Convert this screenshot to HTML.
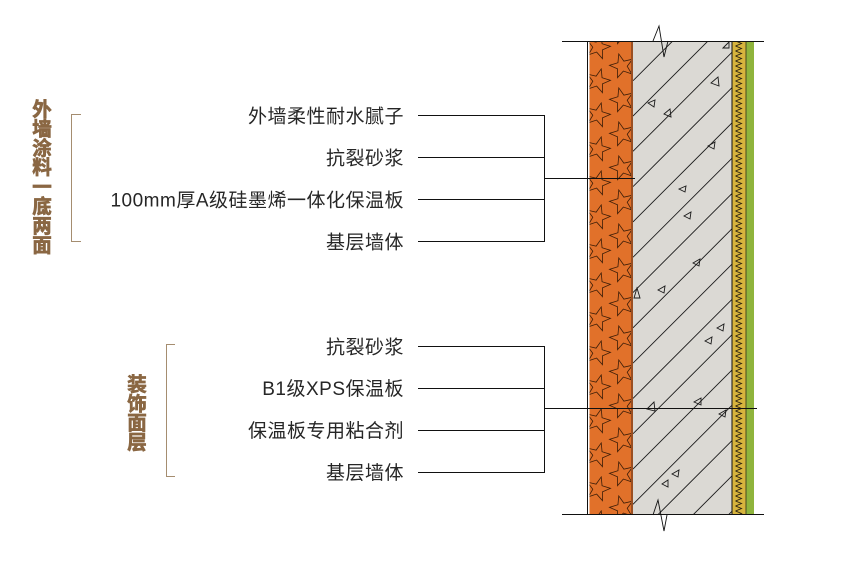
<!DOCTYPE html>
<html>
<head>
<meta charset="utf-8">
<style>
html,body{margin:0;padding:0;background:#fff;width:845px;height:569px;overflow:hidden;}
svg{display:block;}
.lbl{font-family:"Liberation Sans","Noto Sans CJK SC",sans-serif;font-size:19px;fill:#262626;letter-spacing:0.5px;}
.vt{font-family:"Liberation Sans","Noto Sans CJK SC",sans-serif;font-size:19.5px;font-weight:bold;fill:#8a6743;stroke:#8a6743;stroke-width:0.7px;}
</style>
</head>
<body>
<svg width="845" height="569" viewBox="0 0 845 569" xmlns="http://www.w3.org/2000/svg" overflow="hidden">
<defs>
  <clipPath id="cOr"><rect x="589.5" y="41" width="42" height="474"/></clipPath>
  <clipPath id="cGr"><rect x="633" y="41" width="98.5" height="474"/></clipPath>
  <path id="star" d="M0,-12.5 L3.07,-4.23 L11.89,-3.86 L4.97,1.61 L7.35,10.11 L0,5.23 L-7.35,10.11 L-4.97,1.61 L-11.89,-3.86 L-3.07,-4.23 Z" fill="none" stroke="#3b1d08" stroke-width="0.8"/>
  <pattern id="zz" x="732.5" y="41" width="13" height="5" patternUnits="userSpaceOnUse">
    <rect width="13" height="5" fill="#d7b43d"/>
    <path d="M3 0 L9 2.5 L3 5" fill="none" stroke="#2a2210" stroke-width="0.9"/>
  </pattern>
</defs>

<!-- left vertical brown text -->
<g class="vt" text-anchor="middle">
  <text x="42" y="116">外</text>
  <text x="42" y="135.4">墙</text>
  <text x="42" y="154.8">涂</text>
  <text x="42" y="174.2">料</text>
  <text x="42" y="193.6">一</text>
  <text x="42" y="213">底</text>
  <text x="42" y="232.4">两</text>
  <text x="42" y="251.8">面</text>
  <text x="137" y="391">装</text>
  <text x="137" y="410.3">饰</text>
  <text x="137" y="429.6">面</text>
  <text x="137" y="448.9">层</text>
</g>

<!-- brackets -->
<g stroke="#a58d70" stroke-width="1" fill="none">
  <path d="M81 114.5 H71.5 V241.5 H81"/>
  <path d="M175 344.5 H166.5 V476.5 H175"/>
</g>

<!-- labels -->
<g class="lbl" text-anchor="end">
  <text x="404" y="122.5">外墙柔性耐水腻子</text>
  <text x="404" y="164.5">抗裂砂浆</text>
  <text x="404" y="206.5">100mm厚A级硅墨烯一体化保温板</text>
  <text x="404" y="248.5">基层墙体</text>
  <text x="404" y="353.5">抗裂砂浆</text>
  <text x="404" y="395">B1级XPS保温板</text>
  <text x="404" y="437">保温板专用粘合剂</text>
  <text x="404" y="479">基层墙体</text>
</g>

<!-- wall layers -->
<rect x="589.5" y="41" width="42" height="474" fill="#e1712a"/>
<g clip-path="url(#cOr)">
  <use href="#star" transform="translate(598 47) rotate(15)"/>
  <use href="#star" transform="translate(598 81) rotate(15)"/>
  <use href="#star" transform="translate(598 115) rotate(15)"/>
  <use href="#star" transform="translate(598 149) rotate(15)"/>
  <use href="#star" transform="translate(598 183) rotate(15)"/>
  <use href="#star" transform="translate(598 217) rotate(15)"/>
  <use href="#star" transform="translate(598 251) rotate(15)"/>
  <use href="#star" transform="translate(598 285) rotate(15)"/>
  <use href="#star" transform="translate(598 319) rotate(15)"/>
  <use href="#star" transform="translate(598 353) rotate(15)"/>
  <use href="#star" transform="translate(598 387) rotate(15)"/>
  <use href="#star" transform="translate(598 421) rotate(15)"/>
  <use href="#star" transform="translate(598 455) rotate(15)"/>
  <use href="#star" transform="translate(598 489) rotate(15)"/>
  <use href="#star" transform="translate(598 523) rotate(15)"/>
  <use href="#star" transform="translate(622 32) rotate(-15)"/>
  <use href="#star" transform="translate(622 66) rotate(-15)"/>
  <use href="#star" transform="translate(622 100) rotate(-15)"/>
  <use href="#star" transform="translate(622 134) rotate(-15)"/>
  <use href="#star" transform="translate(622 168) rotate(-15)"/>
  <use href="#star" transform="translate(622 202) rotate(-15)"/>
  <use href="#star" transform="translate(622 236) rotate(-15)"/>
  <use href="#star" transform="translate(622 270) rotate(-15)"/>
  <use href="#star" transform="translate(622 304) rotate(-15)"/>
  <use href="#star" transform="translate(622 338) rotate(-15)"/>
  <use href="#star" transform="translate(622 372) rotate(-15)"/>
  <use href="#star" transform="translate(622 406) rotate(-15)"/>
  <use href="#star" transform="translate(622 440) rotate(-15)"/>
  <use href="#star" transform="translate(622 474) rotate(-15)"/>
  <use href="#star" transform="translate(622 508) rotate(-15)"/>
</g>
<rect x="631" y="41" width="2" height="474" fill="#9a4f22"/>

<rect x="633" y="41" width="98.5" height="474" fill="#dbd9d4"/>
<g clip-path="url(#cGr)" stroke="#1a1a1a" stroke-width="0.9" fill="none">
  <path d="M633 80.7 l200 -200"/>
  <path d="M633 116 l200 -200"/>
  <path d="M633 151.3 l200 -200"/>
  <path d="M633 186.6 l200 -200"/>
  <path d="M633 221.9 l200 -200"/>
  <path d="M633 257.2 l200 -200"/>
  <path d="M633 292.5 l200 -200"/>
  <path d="M633 327.8 l200 -200"/>
  <path d="M633 363.1 l200 -200"/>
  <path d="M633 398.4 l200 -200"/>
  <path d="M633 433.7 l200 -200"/>
  <path d="M633 469 l200 -200"/>
  <path d="M633 504.3 l200 -200"/>
  <path d="M633 539.6 l200 -200"/>
  <path d="M633 574.9 l200 -200"/>
  <path d="M633 610.2 l200 -200"/>
  <!-- aggregate triangles -->
  <path d="M723 48 L729 42 L729 48 Z"/>
  <path d="M711 83 L718 77 L719 86 Z"/>
  <path d="M648 103 L655 100 L654 107 Z"/>
  <path d="M664 114 L670 109 L671 117 Z"/>
  <path d="M708 146 L715 142 L714 149 Z"/>
  <path d="M679 189 L686 186 L685 192 Z"/>
  <path d="M684 216 L691 212 L690 219 Z"/>
  <path d="M693 263 L700 259 L699 266 Z"/>
  <path d="M658 290 L665 286 L664 293 Z"/>
  <path d="M634 298 L637 288 L640 298 Z"/>
  <path d="M717 328 L724 324 L723 331 Z"/>
  <path d="M705 341 L712 337 L711 344 Z"/>
  <path d="M647 409 L654 402 L655 411 Z"/>
  <path d="M694 402 L701 398 L701 405 Z"/>
  <path d="M719 414 L726 410 L725 417 Z"/>
  <path d="M672 474 L679 470 L678 477 Z"/>
  <path d="M662 484 L668 480 L668 487 Z"/>
</g>

<rect x="731.5" y="41" width="1" height="474" fill="#111"/>
<rect x="732.5" y="41" width="13" height="474" fill="url(#zz)"/>
<rect x="745.5" y="41" width="1" height="474" fill="#4a4a20"/>
<rect x="746.5" y="41" width="7.5" height="474" fill="#8fb43c"/>

<!-- outline lines -->
<g stroke="#111" stroke-width="1" fill="none">
  <path d="M562 41.5 H764"/>
  <path d="M562 514.5 H764"/>
  <path d="M587.5 41 V515"/>
  <path d="M653 41 L659 26 L664 57 L668 41" stroke-width="0.9"/>
  <path d="M653 515 L658 500 L664 531 L667 515" stroke-width="0.9"/>
  <path d="M418 115.5 H544.5 V241.5 H418"/>
  <path d="M418 157.5 H544.5"/>
  <path d="M418 199.5 H544.5"/>
  <path d="M544.5 178.5 H635"/>
  <path d="M418 346.5 H544.5 V472.5 H418"/>
  <path d="M418 388.5 H544.5"/>
  <path d="M418 430.5 H544.5"/>
  <path d="M544.5 408.5 H757"/>
</g>
</svg>
</body>
</html>
